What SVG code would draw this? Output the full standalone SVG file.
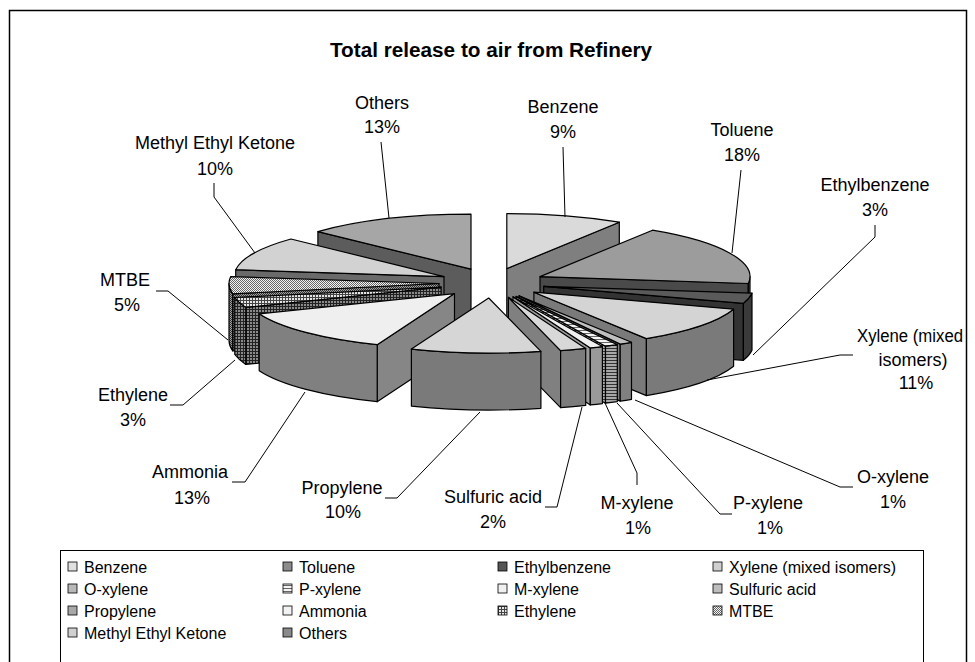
<svg xmlns="http://www.w3.org/2000/svg" width="975" height="662" viewBox="0 0 975 662">
<defs>
<style>
.e{stroke:#000;stroke-width:1.2;stroke-linejoin:round}
.t{font-family:"Liberation Sans",Arial,sans-serif;font-size:18px;fill:#000;text-anchor:middle}
.lg{font-family:"Liberation Sans",Arial,sans-serif;font-size:16px;fill:#000}
.sw{stroke:#000;stroke-width:0.8}
.ld{fill:none;stroke:#000;stroke-width:1}
</style>
<pattern id="pEthTop" width="3" height="3" patternUnits="userSpaceOnUse"><rect width="3" height="3" fill="#e6e6e6"/><path d="M0 0.5H3M0.5 0V3" stroke="#444" stroke-width="1"/></pattern>
<pattern id="pEthSide" width="3" height="3" patternUnits="userSpaceOnUse"><rect width="3" height="3" fill="#8a8a8a"/><path d="M0 0.5H3M0.5 0V3" stroke="#222" stroke-width="1"/></pattern>
<pattern id="pMtTop" width="2" height="2" patternUnits="userSpaceOnUse"><rect width="2" height="2" fill="#f4f4f4"/><rect width="1" height="1" fill="#666"/><rect x="1" y="1" width="1" height="1" fill="#666"/></pattern>
<pattern id="pMtSide" width="2" height="2" patternUnits="userSpaceOnUse"><rect width="2" height="2" fill="#a0a0a0"/><rect width="1" height="1" fill="#333"/><rect x="1" y="1" width="1" height="1" fill="#333"/></pattern>
<pattern id="pPxTop" width="3" height="3" patternUnits="userSpaceOnUse"><rect width="3" height="3" fill="#f4f4f4"/><path d="M0 0.5H3" stroke="#666" stroke-width="1"/></pattern>
<pattern id="pPxSide" width="3" height="3" patternUnits="userSpaceOnUse"><rect width="3" height="3" fill="#a8a8a8"/><path d="M0 0.5H3" stroke="#333" stroke-width="1"/></pattern>
</defs>
<rect width="975" height="662" fill="#fff"/>
<rect x="9.5" y="10.5" width="957" height="700" fill="none" stroke="#000" stroke-width="1.5"/>
<text x="491" y="57" font-family="Liberation Sans,Arial,sans-serif" font-size="20" font-weight="bold" text-anchor="middle" textLength="322" lengthAdjust="spacingAndGlyphs">Total release to air from Refinery</text>

<g id="benzene">
<path class="e" fill="#7f7f7f" d="M506.8 268.6L619.3 222.2L619.3 279.2L506.8 325.6Z"/>
<path class="e" fill="#dadada" d="M506.8 268.6L506.8 213.6A210 55 0 0 1 619.3 222.2Z"/>
<text class="t" x="563" y="113">Benzene</text><text class="t" x="563" y="138">9%</text>
</g>
<g id="others">
<path class="e" fill="#5c5c5c" d="M471 269.2L317.9 231.6L317.9 288.6L471 326.2Z"/>
<path class="e" fill="#a6a6a6" d="M471 269.2L317.9 231.6A210 55 0 0 1 471 214.2Z"/>
<text class="t" x="382" y="109">Others</text><text class="t" x="382" y="133">13%</text>
</g>
<g id="toluene">
<path class="e" fill="#4a4a4a" d="M540 276.6L748.3 283.5L748.3 340.5L540 333.6Z"/>
<path class="e" fill="#555" d="M750 276.6A210 55 0 0 1 748.3 283.5L748.3 340.5A210 55 0 0 0 750 333.6Z"/>
<path class="e" fill="#9c9c9c" d="M540 276.6L652.5 230.2A210 55 0 0 1 748.3 283.5Z"/>
<text class="t" x="742" y="136">Toluene</text><text class="t" x="742" y="161">18%</text>
</g>
<g id="mek">
<path class="e" fill="#6a6a6a" d="M444 276.6L235.7 269.7L235.7 326.7L444 333.6Z"/>
<path class="e" fill="#d2d2d2" d="M444 276.6L235.7 269.7A210 55 0 0 1 290.9 239Z"/>
<text class="t" x="215" y="149">Methyl Ethyl Ketone</text><text class="t" x="215" y="175">10%</text>
</g>
<g id="mtbe">
<path class="e" fill="url(#pMtSide)" d="M439 283.5L232.7 293.8L232.7 350.8L439 340.5Z"/>
<path class="e" fill="url(#pMtSide)" d="M232.7 293.8A210 55 0 0 1 229 283.5L229 340.5A210 55 0 0 0 232.7 350.8Z"/>
<path class="e" fill="url(#pMtTop)" d="M439 283.5L232.7 293.8A210 55 0 0 1 230.7 276.6Z"/>
<text class="t" x="125" y="286">MTBE</text><text class="t" x="127" y="311">5%</text>
</g>
<g id="ethylbenzene">
<path class="e" fill="#333" d="M543.7 286.3L743.4 303.3L743.4 360.3L543.7 343.3Z"/>
<path class="e" fill="#3a3a3a" d="M752 293.2A210 55 0 0 1 743.4 303.3L743.4 360.3A210 55 0 0 0 752 350.2Z"/>
<path class="e" fill="#5a5a5a" d="M543.7 286.3L752 293.2A210 55 0 0 1 743.4 303.3Z"/>
<text class="t" x="875" y="191">Ethylbenzene</text><text class="t" x="875" y="216">3%</text>
</g>
<g id="ethylene">
<path class="e" fill="url(#pEthSide)" d="M441.1 287.2L245.8 307.4L245.8 364.4L441.1 344.2Z"/>
<path class="e" fill="url(#pEthSide)" d="M245.8 307.4A210 55 0 0 1 234.8 297.5L234.8 354.5A210 55 0 0 0 245.8 364.4Z"/>
<path class="e" fill="url(#pEthTop)" d="M441.1 287.2L245.8 307.4A210 55 0 0 1 234.8 297.5Z"/>
<text class="t" x="133" y="401">Ethylene</text><text class="t" x="133" y="426">3%</text>
</g>
<g id="xylene">
<path class="e" fill="#7a7a7a" d="M533.9 292.2L646.4 338.6L646.4 395.6L533.9 349.2Z"/>
<path class="e" fill="#7a7a7a" d="M733.6 309.2A210 55 0 0 1 646.4 338.6L646.4 395.6A210 55 0 0 0 733.6 366.2Z"/>
<path class="e" fill="#d4d4d4" d="M533.9 292.2L733.6 309.2A210 55 0 0 1 646.4 338.6Z"/>
<text class="t" x="910" y="342" textLength="106" lengthAdjust="spacingAndGlyphs">Xylene (mixed</text><text class="t" x="913" y="366">isomers)</text><text class="t" x="916" y="389">11%</text>
</g>
<g id="ammonia">
<path class="e" fill="#868686" d="M454.5 293.6L377.2 344.7L377.2 401.7L454.5 350.6Z"/>
<path class="e" fill="#808080" d="M377.2 344.7A210 55 0 0 1 259.2 313.8L259.2 370.8A210 55 0 0 0 377.2 401.7Z"/>
<path class="e" fill="#efefef" d="M454.5 293.6L377.2 344.7A210 55 0 0 1 259.2 313.8Z"/>
<text class="t" x="190" y="478">Ammonia</text><text class="t" x="192" y="504">13%</text>
</g>
<g id="o-xylene">
<path class="e" fill="#808080" d="M519 295.9L620.2 344.1L620.2 401.1L519 352.9Z"/>
<path class="e" fill="#808080" d="M631.5 342.3A210 55 0 0 1 620.2 344.1L620.2 401.1A210 55 0 0 0 631.5 399.3Z"/>
<path class="e" fill="#c0c0c0" d="M519 295.9L631.5 342.3A210 55 0 0 1 620.2 344.1Z"/>
<text class="t" x="893" y="483">O-xylene</text><text class="t" x="893" y="508">1%</text>
</g>
<g id="p-xylene">
<path class="e" fill="url(#pPxSide)" d="M516.1 296.4L605.5 346.2L605.5 403.2L516.1 353.4Z"/>
<path class="e" fill="url(#pPxSide)" d="M617.3 344.6A210 55 0 0 1 605.5 346.2L605.5 403.2A210 55 0 0 0 617.3 401.6Z"/>
<path class="e" fill="url(#pPxTop)" d="M516.1 296.4L617.3 344.6A210 55 0 0 1 605.5 346.2Z"/>
<text class="t" x="768" y="509">P-xylene</text><text class="t" x="770" y="534">1%</text>
</g>
<g id="m-xylene">
<path class="e" fill="#9a9a9a" d="M513 296.8L590.3 347.9L590.3 404.9L513 353.8Z"/>
<path class="e" fill="#9a9a9a" d="M602.4 346.6A210 55 0 0 1 590.3 347.9L590.3 404.9A210 55 0 0 0 602.4 403.6Z"/>
<path class="e" fill="#f0f0f0" d="M513 296.8L602.4 346.6A210 55 0 0 1 590.3 347.9Z"/>
<text class="t" x="637" y="509">M-xylene</text><text class="t" x="638" y="534">1%</text>
</g>
<g id="sulfuric-acid">
<path class="e" fill="#808080" d="M508.4 297.3L560.6 350.6L560.6 407.6L508.4 354.3Z"/>
<path class="e" fill="#7c7c7c" d="M585.7 348.4A210 55 0 0 1 560.6 350.6L560.6 407.6A210 55 0 0 0 585.7 405.4Z"/>
<path class="e" fill="#d8d8d8" d="M508.4 297.3L585.7 348.4A210 55 0 0 1 560.6 350.6Z"/>
<text class="t" x="493" y="503">Sulfuric acid</text><text class="t" x="493" y="528">2%</text>
</g>
<g id="propylene">
<path class="e" fill="#7a7a7a" d="M540.9 351.3A210 55 0 0 1 411.4 349.1L411.4 406.1A210 55 0 0 0 540.9 408.3Z"/>
<path class="e" fill="#d6d6d6" d="M488.7 298L540.9 351.3A210 55 0 0 1 411.4 349.1Z"/>
<text class="t" x="342" y="494">Propylene</text><text class="t" x="343" y="518">10%</text>
</g>

<g id="connectors">
<polyline class="ld" points="381,142 389,218"/>
<polyline class="ld" points="563,147 565,217"/>
<polyline class="ld" points="214,183 214,197 255,253"/>
<polyline class="ld" points="741,170 732,253"/>
<polyline class="ld" points="875,225 875,237 753,355"/>
<polyline class="ld" points="853,355 840,355 707,380"/>
<polyline class="ld" points="635,400 840,487 853,487"/>
<polyline class="ld" points="617,403 720,514 732,514"/>
<polyline class="ld" points="605,403 637,473 637,485"/>
<polyline class="ld" points="582,407 557,507 545,507"/>
<polyline class="ld" points="480,412 397,498 385,498"/>
<polyline class="ld" points="305,392 245,482 232,482"/>
<polyline class="ld" points="235,360 183,405 170,405"/>
<polyline class="ld" points="228,340 168,291 156,291"/>
</g>

<g id="legend">
<rect x="60.5" y="550.5" width="863" height="200" fill="none" stroke="#000" stroke-width="1"/>
<rect class="sw" x="68" y="562" width="9" height="9" fill="#e0e0e0"/><text class="lg" x="84" y="573">Benzene</text>
<rect class="sw" x="283" y="562" width="9" height="9" fill="#8c8c8c"/><text class="lg" x="299" y="573">Toluene</text>
<rect class="sw" x="498" y="562" width="9" height="9" fill="#555"/><text class="lg" x="514" y="573">Ethylbenzene</text>
<rect class="sw" x="713" y="562" width="9" height="9" fill="#cfcfcf"/><text class="lg" x="729" y="573">Xylene (mixed isomers)</text>
<rect class="sw" x="68" y="584" width="9" height="9" fill="#b8b8b8"/><text class="lg" x="84" y="595">O-xylene</text>
<rect class="sw" x="283" y="584" width="9" height="9" fill="url(#pPxTop)"/><text class="lg" x="299" y="595">P-xylene</text>
<rect class="sw" x="498" y="584" width="9" height="9" fill="#f0f0f0"/><text class="lg" x="514" y="595">M-xylene</text>
<rect class="sw" x="713" y="584" width="9" height="9" fill="#bdbdbd"/><text class="lg" x="729" y="595">Sulfuric acid</text>
<rect class="sw" x="68" y="606" width="9" height="9" fill="#a8a8a8"/><text class="lg" x="84" y="617">Propylene</text>
<rect class="sw" x="283" y="606" width="9" height="9" fill="#f2f2f2"/><text class="lg" x="299" y="617">Ammonia</text>
<rect class="sw" x="498" y="606" width="9" height="9" fill="url(#pEthTop)"/><text class="lg" x="514" y="617">Ethylene</text>
<rect class="sw" x="713" y="606" width="9" height="9" fill="url(#pMtTop)"/><text class="lg" x="729" y="617">MTBE</text>
<rect class="sw" x="68" y="628" width="9" height="9" fill="#d0d0d0"/><text class="lg" x="84" y="639">Methyl Ethyl Ketone</text>
<rect class="sw" x="283" y="628" width="9" height="9" fill="#8a8a8a"/><text class="lg" x="299" y="639">Others</text>
</g>
</svg>
